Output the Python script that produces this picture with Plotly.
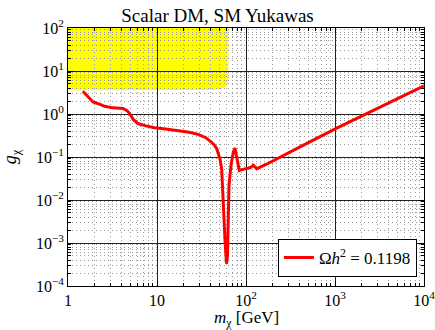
import plotly.graph_objects as go

# Relic-density curve (Omega h^2 = 0.1198)
m_chi = [1.47, 1.91, 2.29, 2.58, 3.2, 4.15, 4.6, 4.93, 5.4, 6.1, 7.5, 9.4, 12.5, 17.2,
         23.0, 28.9, 35.0, 40.8, 44.0, 46.9, 51.0, 53.3, 54.2, 55.9, 58.1, 60.4,
         62.0, 62.8, 63.9, 64.4, 67.8, 72.0, 75.2, 79.8, 84.1, 97.5, 111, 121, 132,
         144, 168, 400, 1018, 2270, 9420, 10000]
g_chi = [3.4, 1.9, 1.68, 1.51, 1.39, 1.34, 1.2, 1.02, 0.75, 0.60, 0.53, 0.48, 0.45, 0.417,
         0.375, 0.336, 0.285, 0.222, 0.19, 0.156, 0.091, 0.053, 0.0218, 0.0057, 0.00114, 0.00033,
         0.00051, 0.0019, 0.0098, 0.0218, 0.064, 0.13, 0.161, 0.091, 0.0487, 0.053, 0.056, 0.064, 0.053,
         0.058, 0.067, 0.169, 0.457, 1.02, 4.26, 4.5]

# Excluded (non-perturbative) region boundary
excl_x = [1, 63.3, 63.3, 62.5, 60.7, 57.5, 53.3, 44.8, 1]
excl_y = [100, 100, 6.1, 5.2, 4.67, 4.2, 3.91, 3.6, 3.57]

x_tickvals = [1, 10, 100, 1000, 10000]
x_ticktext = ["1", "10", "10<sup>2</sup>", "10<sup>3</sup>", "10<sup>4</sup>"]
y_tickvals = [1e-4, 1e-3, 1e-2, 1e-1, 1, 10, 100]
y_ticktext = ["10<sup>\u22124</sup>", "10<sup>\u22123</sup>", "10<sup>\u22122</sup>",
              "10<sup>\u22121</sup>", "10<sup>0</sup>", "10<sup>1</sup>", "10<sup>2</sup>"]

title_text = "Scalar DM, SM Yukawas"
x_title = "<i>m</i><sub>\u03c7</sub> [GeV]"
y_title = "<i>g</i><sub>\u03c7</sub>"
legend_label = "\u03a9<i>h</i><sup>2</sup> = 0.1198"

x_minor = [k * 10 ** d for d in range(0, 4) for k in range(2, 10)]
y_minor = [k * 10.0 ** d for d in range(-4, 2) for k in range(2, 10)]

FONT = "Liberation Serif"

fig = go.Figure()

path = "M " + " L ".join(f"{x},{y}" for x, y in zip(excl_x, excl_y)) + " Z"
fig.add_shape(type="path", path=path, xref="x", yref="y", fillcolor="#ffff00",
              line=dict(width=0), layer="below")

fig.add_trace(go.Scatter(x=m_chi, y=g_chi, mode="lines", name=legend_label,
                         line=dict(color="#ff0000", width=3)))

axis_common = dict(
    type="log", showline=True, mirror="allticks", linecolor="black", linewidth=1,
    ticks="inside", ticklen=5, tickcolor="black", tickwidth=1,
    showgrid=True, gridcolor="#222", gridwidth=1,
    tickfont=dict(family=FONT, size=16, color="black"),
    zeroline=False, automargin=False, ticklabeloverflow="allow",
)

minor_common = dict(ticks="inside", ticklen=3, tickcolor="black",
                    showgrid=True, gridcolor="#9a9a9a", griddash="1px,3px", gridwidth=1)

fig.update_xaxes(**axis_common, range=[0, 4], tickvals=x_tickvals, ticktext=x_ticktext,
                 minor=dict(tickvals=x_minor, **minor_common))
fig.update_yaxes(**axis_common, range=[-4, 2], tickvals=y_tickvals, ticktext=y_ticktext,
                 minor=dict(tickvals=y_minor, **minor_common),
                 title=dict(text=y_title, standoff=16,
                            font=dict(family=FONT, size=18, color="black")))

fig.add_annotation(text=x_title, xref="paper", yref="paper", x=0.5, y=-0.127,
                   xanchor="center", yanchor="middle", showarrow=False,
                   font=dict(family=FONT, size=17, color="black"))

fig.update_layout(
    width=435, height=330,
    margin=dict(l=68, r=11, t=28, b=44),
    paper_bgcolor="white", plot_bgcolor="white",
    title=dict(text=title_text, x=0.5, xanchor="center", y=0.955, yanchor="middle",
               font=dict(family=FONT, size=19, color="black")),
    showlegend=True,
    legend=dict(x=0.98, y=0.035, xanchor="right", yanchor="bottom",
                bgcolor="white", bordercolor="black", borderwidth=1,
                font=dict(family=FONT, size=17, color="black")),
)

fig.write_html("out.html")
